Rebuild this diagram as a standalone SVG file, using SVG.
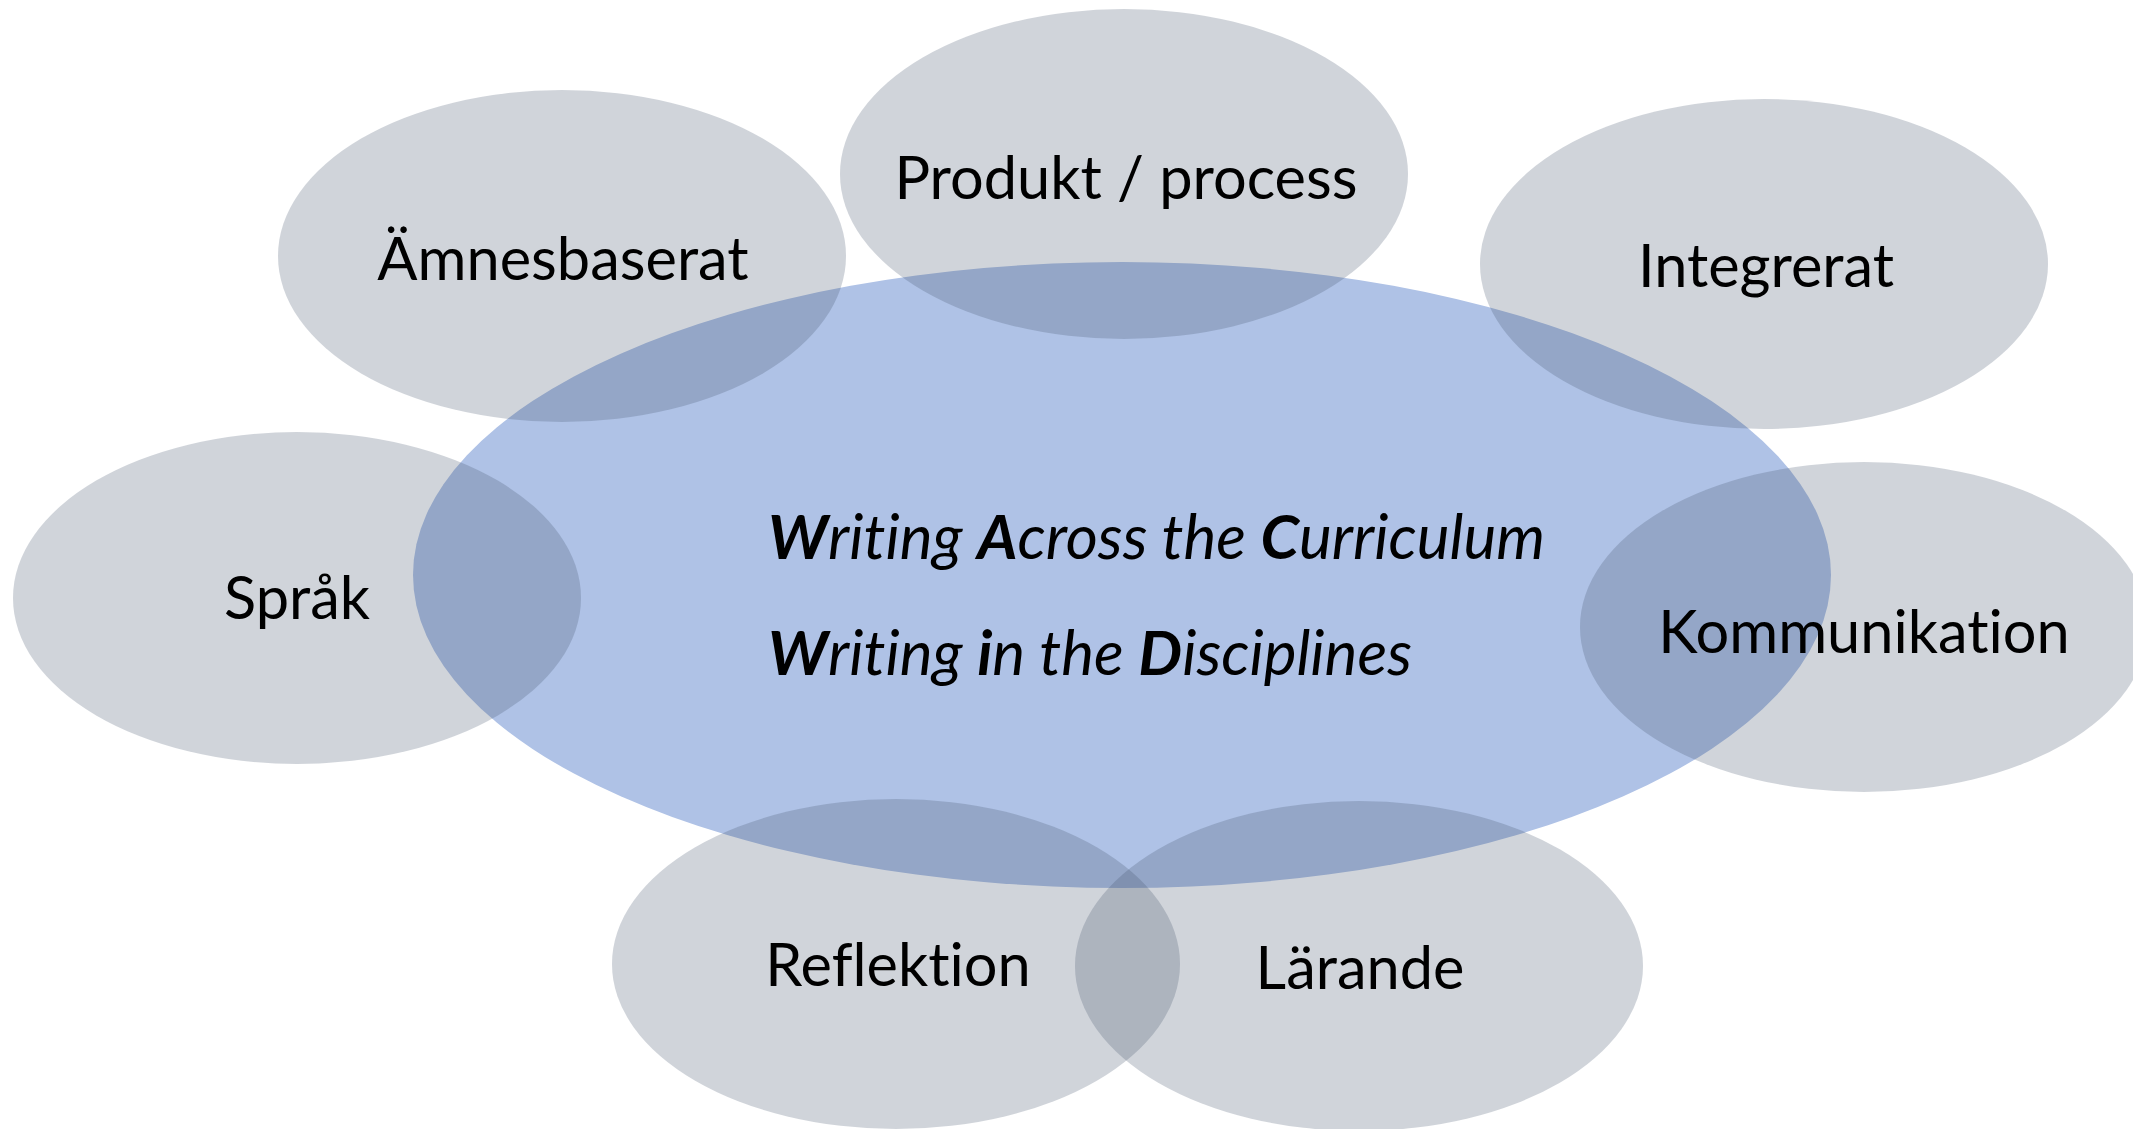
<svg xmlns="http://www.w3.org/2000/svg" width="2133" height="1129" viewBox="0 0 2133 1129">
<style>
.bubble{fill:#44546A;fill-opacity:0.25}
.main{fill:#AFC2E6}
text{font-variant-ligatures:none;font-feature-settings:"liga" 0,"clig" 0}
.lbl{font-family:Lato,"Open Sans",sans-serif;font-size:59.5px;fill:#000;text-anchor:middle}
.ctr{font-family:Lato,"Open Sans",sans-serif;font-size:62px;font-style:italic;fill:#000}
.b{font-weight:bold}
</style>
<rect width="2133" height="1129" fill="#fff"/>
<g id="center">
<ellipse class="main" cx="1122" cy="575" rx="709" ry="313"/>
<text class="ctr" x="768" y="559"><tspan class="b">W</tspan>riting <tspan class="b">A</tspan>cross the <tspan class="b">C</tspan>urriculum</text>
<text class="ctr" x="768" y="675"><tspan class="b">W</tspan>riting <tspan class="b">i</tspan>n the <tspan class="b">D</tspan>isciplines</text>
</g>
<g id="connectors"></g>
<g id="amnesbaserat">
<ellipse class="bubble" cx="562" cy="256" rx="284" ry="166"/>
<text class="lbl" x="563" y="280">Ämnesbaserat</text>
</g>
<g id="produkt">
<ellipse class="bubble" cx="1124" cy="174" rx="284" ry="165"/>
<text class="lbl" x="1126" y="199">Produkt / process</text>
</g>
<g id="integrerat">
<ellipse class="bubble" cx="1764" cy="264" rx="284" ry="165"/>
<text class="lbl" x="1766" y="287">Integrerat</text>
</g>
<g id="sprak">
<ellipse class="bubble" cx="297" cy="598" rx="284" ry="166"/>
<text class="lbl" x="297" y="619">Språk</text>
</g>
<g id="kommunikation">
<ellipse class="bubble" cx="1864" cy="627" rx="284" ry="165"/>
<text class="lbl" x="1864" y="653">Kommunikation</text>
</g>
<g id="reflektion">
<ellipse class="bubble" cx="896" cy="964" rx="284" ry="165"/>
<text class="lbl" x="898" y="986">Reflektion</text>
</g>
<g id="larande">
<ellipse class="bubble" cx="1359" cy="966" rx="284" ry="165"/>
<text class="lbl" x="1360" y="989">Lärande</text>
</g>
</svg>
